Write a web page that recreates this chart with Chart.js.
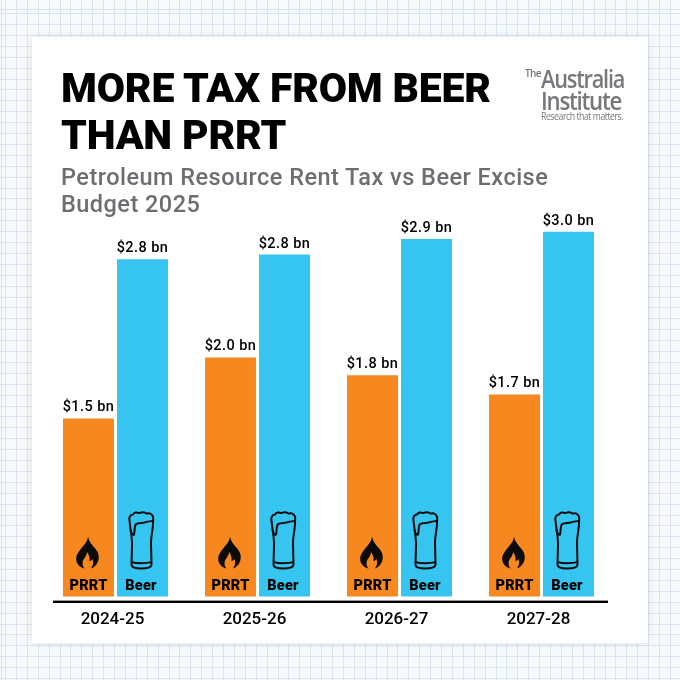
<!DOCTYPE html>
<html><head><meta charset="utf-8">
<script src="https://cdn.jsdelivr.net/npm/chart.js@4"></script>
<style>
html,body{margin:0;padding:0;width:680px;height:680px;overflow:hidden}
body{position:relative;background-color:#f8f9fc;
background-image:repeating-linear-gradient(90deg,#d9e5f3 0 1px,transparent 1px 10.9px),repeating-linear-gradient(0deg,#d9e5f3 0 1px,transparent 1px 10.9px);background-position:5px 10px}
#card{position:absolute;left:32px;top:37px;width:616px;height:606px;background:#fff;box-shadow:0 0 8px rgba(120,120,130,.16)}
canvas{position:absolute;left:0;top:0}
.t{position:absolute;white-space:nowrap;font-family:Roboto,sans-serif}
#title{left:61px;top:65px;font-size:41px;line-height:46.5px;font-weight:900;color:#000;letter-spacing:-.2px}
#sub{left:61px;top:164px;font-size:23.5px;line-height:26.5px;font-weight:500;color:#6d6e71;letter-spacing:.47px}
.logo{color:#77787b;font-family:"Open Sans",sans-serif;font-weight:600;transform-origin:left}
</style></head><body>
<div id="card"></div>
<canvas id="c" width="680" height="680" style="width:680px;height:680px"></canvas>
<div class="t" id="title">MORE TAX FROM BEER<br>THAN PRRT</div>
<div class="t" id="sub">Petroleum Resource Rent Tax vs Beer Excise<br>Budget 2025</div>
<div class="t logo" style="left:525px;top:66px;font-size:10px;letter-spacing:-.6px">The</div>
<div class="t logo" style="left:541px;top:61px;font-size:25px;letter-spacing:-1.4px;transform:scaleX(.87)">Australia</div>
<div class="t logo" style="left:541px;top:83px;font-size:25px;letter-spacing:-1.4px;transform:scaleX(.89)">Institute</div>
<div class="t logo" style="left:541px;top:109px;font-size:10.5px;font-weight:400;letter-spacing:-.55px;transform:scaleX(.83)">Research that matters.</div>
<script>
const categories = ["2024-25","2025-26","2026-27","2027-28"];
const seriesNames = ["PRRT","Beer"];
const prrtValues = [1.49,2.0,1.85,1.69];
const beerValues = [2.82,2.86,2.99,3.05];
const prrtLabels = ["$1.5 bn","$2.0 bn","$1.8 bn","$1.7 bn"];
const beerLabels = ["$2.8 bn","$2.8 bn","$2.9 bn","$3.0 bn"];

const FLAME_OUT = "M12 0C13 6 17 9 20 13C23 17 23.5 21 22 25C21 28 18 31 15 32C17 29 18 26 16.5 22.5C15.5 24 14.5 24.5 13.5 24.5C14 21 13 18 11 15.5C11 19 8.5 21 7 24C6 27 6.5 30 8.5 32C4 31 .5 27.5 .2 23C0 18 3 15 6 11C8.5 8 11.5 5 12 0Z";
function drawFlame(ctx,cx,by){
  ctx.save();ctx.translate(cx-11.5,by-32);ctx.fillStyle="#0b0b0b";ctx.fill(new Path2D(FLAME_OUT));ctx.restore();
}
function drawBeer(ctx,cx,by){
  ctx.save();ctx.translate(cx-13,by-57);ctx.strokeStyle="#0b0b0b";ctx.lineWidth=2;ctx.lineJoin="round";
  ctx.stroke(new Path2D("M1.5 9C.5 5 3 3 5 3C6 .5 9 .5 11 1.5C14 .5 17 .5 18.5 2C21 1 24 2 25 5C25.5 7 25 9 25 12C25 18 23 24 23 31L23.5 53C23.5 56 20 57 13 57C6 57 3.5 56 3.5 53L4 33C4 24 2 16 1.5 9Z"));
  ctx.stroke(new Path2D("M4 50.5C8 52 18 52 23.5 50.5"));
  ctx.stroke(new Path2D("M2.5 18C3 21 4.5 24 6 23C7 20 6 15 8 12.5C11 10.5 15 12 18 10.5C21 9.5 23 10 25 9"));
  ctx.restore();
}
const marks = {
  id:"marks",
  afterDatasetsDraw(chart){
    const ctx=chart.ctx, x=chart.scales.x, y=chart.scales.y, a=chart.chartArea;
    ctx.save();
    ctx.fillStyle="#000";ctx.fillRect(a.left+8.5,y.bottom-1,555,2.4);
    ctx.textAlign="center";
    chart.data.datasets.forEach((ds,di)=>{
      chart.getDatasetMeta(di).data.forEach((bar,i)=>{
        ctx.fillStyle="#000";
        ctx.font='500 14.5px Roboto';ctx.letterSpacing="0.45px";ctx.textBaseline="alphabetic";
        ctx.fillText(ds.valueLabels[i],bar.x,bar.y-7);
        ctx.font='900 14.5px Roboto';ctx.letterSpacing="0.2px";
        ctx.fillText(ds.label,di===1?bar.x-1.5:bar.x,bar.base-7);
        ctx.letterSpacing="0px";
        if(di===0)drawFlame(ctx,bar.x-1,bar.base-28);else drawBeer(ctx,bar.x-1.5,bar.base-28);
      });
    });
    ctx.restore();
  }
};
new Chart(document.getElementById("c"),{
  type:"bar",
  data:{labels:categories,datasets:[
    {label:seriesNames[0],data:prrtValues,valueLabels:prrtLabels,backgroundColor:"#f7871f"},
    {label:seriesNames[1],data:beerValues,valueLabels:beerLabels,backgroundColor:"#36c5f0"}
  ]},
  options:{
    responsive:false,animation:false,devicePixelRatio:1,
    categoryPercentage:.7606,barPercentage:.944,
    layout:{padding:{left:44.5,right:67.5,top:178,bottom:50}},
    plugins:{legend:{display:false},tooltip:{enabled:false},title:{display:false}},
    scales:{
      x:{grid:{display:false},border:{display:false},
         ticks:{color:"#000",font:{family:"Roboto",size:17,weight:"500"},padding:0,labelOffset:-3,maxRotation:0}},
      y:{display:false,min:-0.0417,max:3.5}
    }
  },
  plugins:[marks]
});
</script>
</body></html>
